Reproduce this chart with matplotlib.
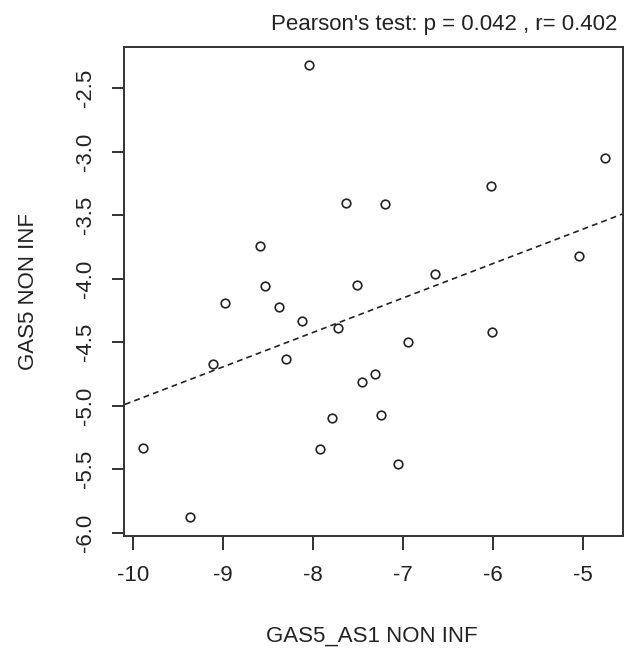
import numpy as np
import matplotlib
matplotlib.use("Agg")
import matplotlib.pyplot as plt

plt.rcParams['font.family'] = ['Liberation Sans', 'DejaVu Sans']

# values
gas5_as1 = [-8.04, -8.59, -8.53, -8.98, -8.38, -8.12, -4.76, -6.02, -7.63,
            -7.20, -5.05, -6.65, -7.51, -7.72, -6.01, -6.95, -9.11, -8.30,
            -9.88, -9.36, -7.92, -7.46, -7.31, -7.79, -7.25, -7.06]
gas5 = [-2.32, -3.74, -4.06, -4.19, -4.22, -4.33, -3.05, -3.27, -3.40,
        -3.41, -3.82, -3.96, -4.05, -4.39, -4.42, -4.50, -4.67, -4.63,
        -5.33, -5.88, -5.34, -4.81, -4.75, -5.10, -5.07, -5.46]
xticks = [-10, -9, -8, -7, -6, -5]
yticks = [-2.5, -3.0, -3.5, -4.0, -4.5, -5.0, -5.5, -6.0]

x = np.array(gas5_as1)
y = np.array(gas5)

fig = plt.figure(figsize=(6.33, 6.48), dpi=100)
ax = fig.add_axes([0.1959, 0.1728, 0.7878, 0.7547])

txt = '#222222'
fs = 16
ax.plot(x, y, 'o', mfc='white', mec='#222222', ms=6.2, mew=1.2, zorder=3)

# least squares line, drawn across the whole panel like abline()
slope, icept = np.polyfit(x, y, 1)
xl = np.array([-10.5, -4.0])
ax.plot(xl, icept + slope * xl, ls=(0, (3.5, 2.5)), color='#222222', lw=1.2)

ax.set_xlim(-10.096, -4.563)
ax.set_ylim(-6.026, -2.175)
ax.set_xticks(xticks)
ax.set_xticklabels([str(t) for t in xticks])
ax.set_yticks(yticks)
ax.set_yticklabels(['%.1f' % t for t in yticks], rotation=90, va='center')
ax.tick_params(axis='x', length=10, width=1.3, pad=11, labelsize=fs, colors=txt)
ax.tick_params(axis='y', length=9, width=1.3, pad=11, labelsize=fs, colors=txt)
for s in ax.spines.values():
    s.set_linewidth(1.4)
    s.set_color('#333333')

ax.set_xlabel('GAS5_AS1 NON INF', fontsize=fs, color=txt, va='baseline')
ax.xaxis.set_label_coords(0.496, -0.2168)
ax.set_ylabel('GAS5 NON INF', fontsize=fs, color=txt, va='center')
ax.yaxis.set_label_coords(-0.1925, 0.5)

fig.text(617 / 633, 1 - 30 / 648, "Pearson's test: p = 0.042 , r= 0.402",
         ha='right', va='baseline', fontsize=fs, color=txt)

fig.savefig('out.png', dpi=100)
